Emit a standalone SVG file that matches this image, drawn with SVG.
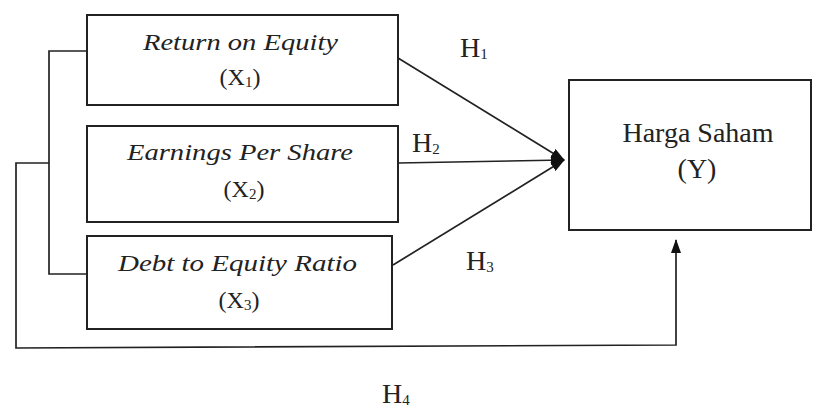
<svg xmlns="http://www.w3.org/2000/svg" width="814" height="409" viewBox="0 0 814 409">
<style>
.box{fill:#fff;stroke:#222;stroke-width:2}
.ln{fill:none;stroke:#222;stroke-width:1.7}
text{font-family:"Liberation Serif","Times New Roman",serif;fill:#222;text-anchor:middle}
.it{font-style:italic;font-size:23px}
.v{font-size:24px}
.h{font-size:28px;text-anchor:start}
.sub{font-size:15px}
.hs{font-size:28px}
</style>
<defs>
<marker id="ah" markerWidth="14" markerHeight="10" refX="13" refY="5" orient="auto" markerUnits="userSpaceOnUse">
<path d="M0,0 L14,5 L0,10 Z" fill="#111"/>
</marker>
</defs>
<g id="connectors">
<path class="ln" d="M87,51 H49 V274 H87"/>
<path class="ln" d="M49,163 H16 V348 L676,345 V240" marker-end="url(#ah)"/>
<line class="ln" x1="398" y1="58" x2="564" y2="160" marker-end="url(#ah)"/>
<line class="ln" x1="398" y1="163" x2="564" y2="160" marker-end="url(#ah)"/>
<line class="ln" x1="393" y1="265" x2="564" y2="160" marker-end="url(#ah)"/>
<text class="h" x="460" y="57">H<tspan class="sub" dy="2">1</tspan></text>
<text class="h" x="412" y="152">H<tspan class="sub" dy="2">2</tspan></text>
<text class="h" x="466" y="270">H<tspan class="sub" dy="2">3</tspan></text>
<text class="h" x="382" y="403">H<tspan class="sub" dy="2">4</tspan></text>
</g>
<g id="roe">
<rect class="box" x="87" y="15" width="311" height="90"/>
<text class="it" x="240.5" y="50" textLength="195" lengthAdjust="spacingAndGlyphs">Return on Equity</text>
<text class="v" x="240" y="85">(X<tspan class="sub" dy="2">1</tspan><tspan dy="-2">)</tspan></text>
</g>
<g id="eps">
<rect class="box" x="87" y="126" width="311" height="96"/>
<text class="it" x="240" y="160" textLength="226" lengthAdjust="spacingAndGlyphs">Earnings Per Share</text>
<text class="v" x="244" y="197">(X<tspan class="sub" dy="2">2</tspan><tspan dy="-2">)</tspan></text>
</g>
<g id="der">
<rect class="box" x="87" y="236" width="305" height="93"/>
<text class="it" x="237.5" y="271" textLength="239" lengthAdjust="spacingAndGlyphs">Debt to Equity Ratio</text>
<text class="v" x="239" y="308">(X<tspan class="sub" dy="2">3</tspan><tspan dy="-2">)</tspan></text>
</g>
<g id="harga">
<rect class="box" x="569" y="80" width="242" height="150"/>
<text class="hs" x="698" y="142">Harga Saham</text>
<text class="hs" x="697" y="178">(Y)</text>
</g>
</svg>
